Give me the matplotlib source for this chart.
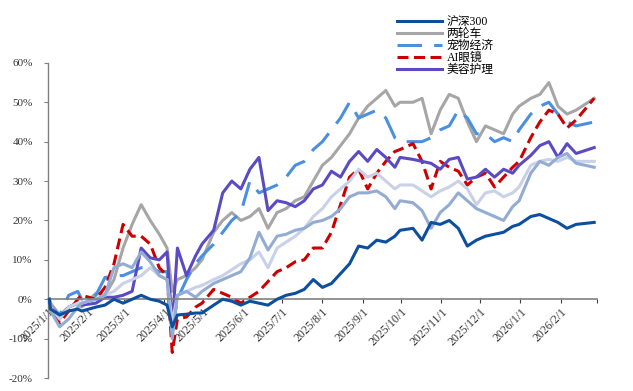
import matplotlib
matplotlib.use("Agg")
import matplotlib.pyplot as plt
import matplotlib.dates as mdates
import matplotlib.ticker as mticker
import pandas as pd

plt.rcParams['font.family'] = ['Liberation Serif', 'Noto Sans CJK SC', 'DejaVu Sans']

dates = ['2025-01-02', '2025-01-03', '2025-01-10', '2025-01-17', '2025-01-24', '2025-01-27',
         '2025-02-07', '2025-02-14', '2025-02-21', '2025-02-28',
         '2025-03-07', '2025-03-14', '2025-03-21', '2025-03-28',
         '2025-04-03', '2025-04-07', '2025-04-11', '2025-04-18', '2025-04-25', '2025-04-30',
         '2025-05-09', '2025-05-16', '2025-05-23', '2025-05-30',
         '2025-06-06', '2025-06-13', '2025-06-20', '2025-06-27',
         '2025-07-04', '2025-07-11', '2025-07-18', '2025-07-25',
         '2025-08-01', '2025-08-08', '2025-08-15', '2025-08-22', '2025-08-29',
         '2025-09-05', '2025-09-12', '2025-09-19', '2025-09-26', '2025-09-30',
         '2025-10-10', '2025-10-17', '2025-10-24', '2025-10-31',
         '2025-11-07', '2025-11-14', '2025-11-21', '2025-11-28',
         '2025-12-05', '2025-12-12', '2025-12-19', '2025-12-26', '2025-12-31',
         '2026-01-09', '2026-01-16', '2026-01-23', '2026-01-30',
         '2026-02-06', '2026-02-13', '2026-02-27']
dates = pd.to_datetime(dates)

# cumulative return, %
hs300 = [0, -2.5, -4, -3, -2.5, -3,
         -2, -1.5, 0, -1,
         0, 1, 0, -0.5,
         -1.5, -7, -4, -3.8, -3.5, -3.5,
         -1.5, 0, -0.5, -1.5,
         -0.5, -1, -1.5, 0,
         1, 1.5, 2.5, 5,
         3, 4, 6.5, 9, 13.5,
         13, 15, 14.5, 16, 17.5,
         18, 15, 19.5, 19,
         20, 18, 13.5, 15,
         16, 16.5, 17, 18.5, 19,
         21, 21.5, 20.5, 19.5,
         18, 19, 19.5]
two_wheel = [0, -1, -4, -2, -1, -2,
             1.5, 1, 5, 13,
             19, 24, 20, 16.5,
             13, 2, 5, 6, 8, 10,
             17, 20, 22, 20,
             21, 23, 18, 22,
             23, 25, 26, 30,
             34, 36, 39, 42, 46,
             49, 51, 53, 49, 50,
             50, 51, 42, 48,
             52, 51, 45, 40,
             44, 43, 42, 47, 49,
             51, 52, 55, 49,
             47, 48, 51]
pet = [0, -2, -4, 1, 2, 0,
       1, 5.5, 6, 6,
       7, 8, 8, 7,
       7, -8, 0, 5, 9, 11,
       14, 17, 20, 22,
       30, 27, 28, 29,
       31, 34, 35, 38,
       40, 43, 46, 50, 46,
       47, 48, 46, 41, 40,
       40, 40, 41, 43,
       44, 48, 46, 42,
       42, 40, 41, 40, 43,
       47, 49, 50, 47,
       45, 44, 45]
ai_glasses = [0, -3, -6, -3, 0, 1,
              0, 3, 9, 19,
              16, 16, 14, 8,
              6, -13.5, -5, -4.5, -2, -1,
              2.5, 1.5, 0.5, -1,
              0.5, 2, 4.5, 7,
              8, 9.5, 10, 13,
              13, 17, 24, 31, 33,
              28, 32, 35, 37.5, 38,
              39.5, 35, 28, 35,
              33.5, 32.5, 29, 31,
              32, 28.5, 31, 33.5, 35,
              41, 45, 48, 47,
              43.5, 45.5, 51]
beauty = [0, -2, -5, -2, -1, -1.5,
          -1, 0.5, 0.5, 1,
          2, 13, 10.5, 10,
          12, -7, 13, 6, 11, 14,
          17.5, 27, 30, 28,
          33, 36, 22.5, 25,
          24.5, 23.5, 25, 28,
          29, 32.5, 31, 35, 37.5,
          35, 38, 36, 33.5, 36,
          35.5, 35, 34.5, 33,
          35.5, 36, 30.5, 31,
          33, 31, 33, 32, 34,
          36.5, 39, 40, 36,
          39.5, 37, 38.5]
extra_a = [0, -2, -5, -2, -1, -1,
           0, 1, 2, 4,
           5, 6, 8, 6,
           5, -6, 1, 2, 3, 3.5,
           5, 6, 7.5, 9,
           10, 12, 8, 13,
           14.5, 16, 18, 21,
           23, 26, 28, 30, 33,
           31, 32, 30, 28, 29,
           29, 27.5, 26, 27.5,
           28.5, 30, 28, 24,
           27, 27.5, 26, 27, 28.5,
           34, 35, 35.5, 35,
           36, 35, 35]
extra_b = [0, -3, -7, -5, -2, -1,
           0, 1, 8, 9,
           8, 12, 9.5, 6,
           5, -10, 1, 2, 0.5, 2,
           4, 5, 6, 7,
           10.5, 17, 12.5, 16,
           16.5, 17.5, 18, 19.5,
           20, 21, 23, 26, 27,
           27, 27.5, 26, 23, 25,
           24.5, 22.5, 18, 22,
           24, 27, 25, 23,
           22, 21, 20, 23.5, 25,
           32, 35, 34, 36,
           37, 34.5, 33.5]

fig = plt.figure(figsize=(6.33, 3.91), dpi=100)
ax = fig.add_axes([0.0758, 0.0332, 0.867, 0.806])

lw = 2.2
ax.plot(dates, hs300, color='#0d4f9e', lw=lw, label='沪深300', zorder=3)
ax.plot(dates, two_wheel, color='#a6a6a6', lw=lw, label='两轮车', zorder=2)
ax.plot(dates, pet, color='#4a8fe0', lw=lw, dashes=(8, 4), label='宠物经济', zorder=2)
ax.plot(dates, ai_glasses, color='#cc0000', lw=lw, dashes=(3.6, 1.8), label='AI眼镜', zorder=2)
ax.plot(dates, beauty, color='#5a4bc4', lw=lw, label='美容护理', zorder=2)
ax.plot(dates, extra_a, color='#c9d1e8', lw=lw, label='_nolegend_', zorder=2)
ax.plot(dates, extra_b, color='#93acd4', lw=lw, label='_nolegend_', zorder=2)

ax.set_ylim(-20, 60)
ax.set_yticks(range(-20, 61, 10))
ax.yaxis.set_major_formatter(mticker.FuncFormatter(lambda v, p: f'{v:.0f}%'))
ax.set_xlim(pd.Timestamp('2025-01-01'), pd.Timestamp('2026-03-01'))
ax.xaxis.set_major_locator(mdates.MonthLocator())
end = mdates.date2num(pd.Timestamp('2026-03-01'))


def fmt_date(v, pos):
    if v >= end - 1:
        return ''
    d = mdates.num2date(v)
    return f'{d.year}/{d.month}/{d.day}'


ax.xaxis.set_major_formatter(mticker.FuncFormatter(fmt_date))

ax.spines['top'].set_visible(False)
ax.spines['right'].set_visible(False)
ax.spines['bottom'].set_position(('data', 0))
ax.spines['bottom'].set_color('#808080')
ax.spines['left'].set_color('#808080')
ax.spines['bottom'].set_linewidth(1.2)
ax.spines['left'].set_linewidth(1.0)
ax.tick_params(axis='y', direction='out', length=3, color='#808080', pad=8,
               labelcolor='#333333', labelsize=8)
ax.tick_params(axis='x', direction='out', length=3, color='#404040', pad=2,
               labelcolor='#333333', labelsize=8.5, labelrotation=45)
plt.setp(ax.get_xticklabels(), ha='right', va='top', rotation_mode='anchor')

fig.legend(loc='upper left', bbox_to_anchor=(397 / 633, 1 - 16 / 391), frameon=False,
           fontsize=8.5, labelspacing=0.0, handlelength=3.8, handletextpad=0.4,
           borderaxespad=0, borderpad=0)

fig.savefig('out.png', dpi=100)
